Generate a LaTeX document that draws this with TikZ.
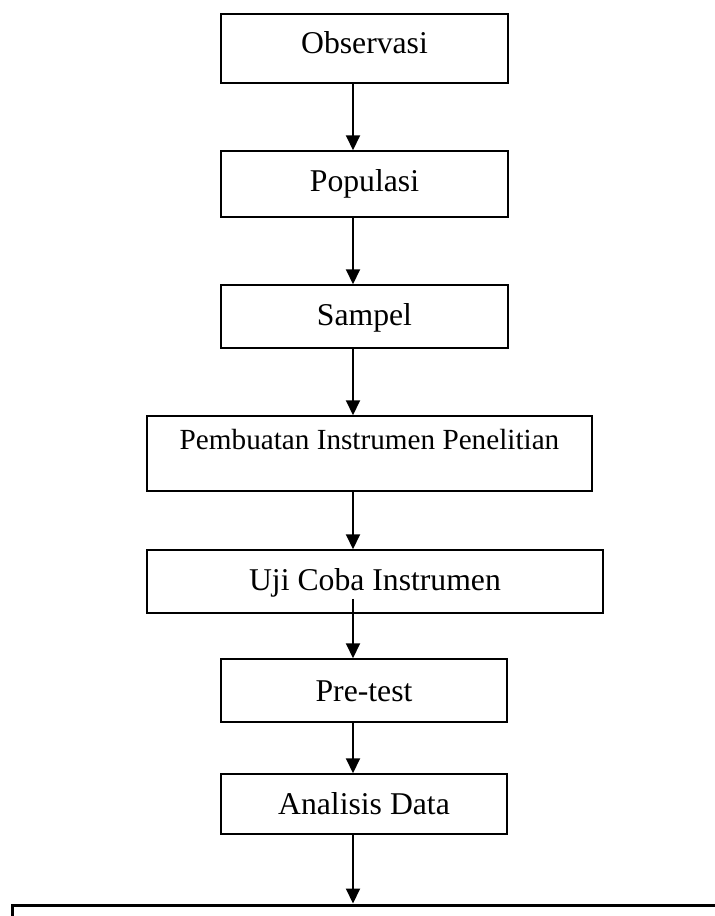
\documentclass[tikz,border=0pt]{standalone}
\usepackage{fontspec}
\setmainfont{Liberation Serif}
\usetikzlibrary{arrows.meta}

\begin{document}
\begin{tikzpicture}[x=1pt, y=-1pt,
  stage/.style={draw, line width=1.5pt, minimum width=287pt, minimum height=63pt, inner sep=4pt, text height=22pt, text depth=5pt, font=\fontsize{31.7}{38}\selectfont},
  flow/.style={-{Triangle[width=14pt,length=15pt]}, line width=2pt}]
\useasboundingbox (0,0) rectangle (715,916);
\clip (0,0) rectangle (715,916);
\coordinate (ax) at (353,0);
\node[stage, minimum height=69pt, text depth=13pt] (obs) at (364.5,48.5) {Observasi};
\node[stage, minimum height=66pt, text depth=8pt] (pop) at (364.5,184) {Populasi};
\node[stage] (sam) at (364.5,316.5) {Sampel};
\node[stage, minimum width=445pt, minimum height=75pt, text height=20pt, text depth=28pt, font=\fontsize{29.2}{35}\selectfont] (pem) at (369.5,453.5) {Pembuatan Instrumen Penelitian};
\node[stage, minimum width=456pt] (uji) at (375,581.5) {Uji Coba Instrumen};
\node[stage, minimum width=286pt, text depth=0pt] (pre) at (364,690.5) {Pre-test};
\node[stage, minimum width=286pt, minimum height=60pt, text depth=2pt] (ana) at (364,804) {Analisis Data};
\node[draw, line width=3pt, minimum width=760pt, minimum height=60pt] (nxt) at (392,935) {};
\draw[flow] (obs.south -| ax) -- (pop.north -| ax);
\draw[flow] (pop.south -| ax) -- (sam.north -| ax);
\draw[flow] (sam.south -| ax) -- (pem.north -| ax);
\draw[flow] (pem.south -| ax) -- (uji.north -| ax);
\draw[flow] ([yshift=15pt]uji.south -| ax) -- (pre.north -| ax);
\draw[flow] (pre.south -| ax) -- (ana.north -| ax);
\draw[flow] (ana.south -| ax) -- (nxt.north -| ax);
\end{tikzpicture}
\end{document}
